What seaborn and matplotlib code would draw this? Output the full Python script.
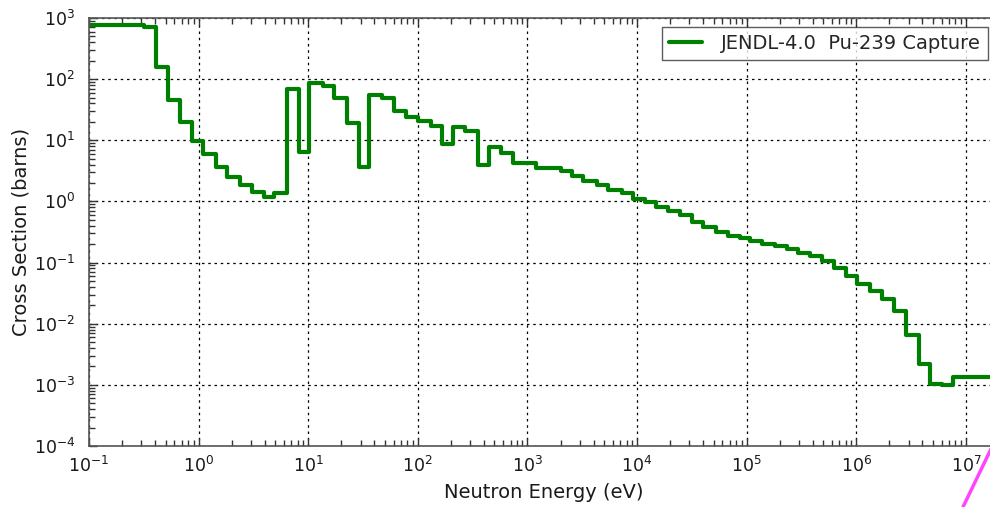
import matplotlib
matplotlib.use("Agg")
import matplotlib.pyplot as plt
from matplotlib.lines import Line2D
from matplotlib.ticker import LogLocator, NullFormatter
import numpy as np
import pandas as pd
import seaborn as sns

# Group boundaries (eV) and group-averaged capture cross sections (barns)
energy_edges = [
    0.1, 0.32, 0.41, 0.53, 0.68, 0.865, 1.10, 1.43, 1.83, 2.37, 3.05, 3.95,
    4.91, 6.37, 8.3, 10.2, 13.6, 17.2, 22.4, 28.9, 36.1, 46.9, 61.0, 78.0,
    101.0, 131.0, 165.0, 211.0, 270.0, 352.0, 449.0, 570.0, 743.0, 1190.0,
    2030.0, 2540.0, 3240.0, 4290.0, 5470.0, 7240.0, 9250.0, 1.18e4, 1.49e4,
    1.91e4, 2.47e4, 3.16e4, 4.03e4, 5.26e4, 6.71e4, 8.6e4, 1.07e5, 1.37e5,
    1.82e5, 2.32e5, 2.96e5, 3.78e5, 4.84e5, 6.27e5, 8.07e5, 1.023e6,
    1.336e6, 1.73e6, 2.213e6, 2.851e6, 3.69e6, 4.72e6, 6.03e6, 7.69e6, 2.0e7,
]
capture_xs = [
    768, 705, 156, 45.5, 19.6, 9.8, 5.9, 3.64, 2.53, 1.85, 1.44, 1.19,
    1.35, 68, 6.4, 85, 78, 48.5, 18.9, 3.69, 55, 48.5, 30.4, 24.3,
    20.9, 17.1, 8.7, 16.3, 14.3, 3.93, 7.8, 6.1, 4.2, 3.47,
    3.17, 2.6, 2.17, 1.85, 1.53, 1.35, 1.08, 0.975, 0.817,
    0.694, 0.597, 0.464, 0.376, 0.316, 0.272, 0.248, 0.226, 0.205,
    0.185, 0.164, 0.146, 0.127, 0.107, 0.082, 0.060, 0.0443,
    0.0344, 0.0252, 0.0162, 0.0065, 0.00223, 0.00105, 0.00099, 0.00135,
]
series_label = "JENDL-4.0  Pu-239 Capture"

# Histogram drawn as a post-step line: repeat the last value at the upper edge
df = pd.DataFrame({
    "energy": energy_edges,
    "xs": capture_xs + [capture_xs[-1]],
})

sns.set_style("ticks", {"xtick.direction": "in", "ytick.direction": "in"})
plt.rcParams.update({
    "font.family": ["DejaVu Sans"],
    "xtick.major.pad": 7, "ytick.major.pad": 10,
})

fig = plt.figure(figsize=(9.9, 5.07), dpi=100)
ax = fig.add_axes([89 / 990, 61 / 507, 910 / 990, 428 / 507])

sns.lineplot(data=df, x="energy", y="xs", ax=ax, estimator=None, sort=False,
             drawstyle="steps-post", color="green", linewidth=3.0,
             label=series_label)

# Frame, axis titles and legend
for side in ax.spines.values():
    side.set_color("#555555")
    side.set_linewidth(1.2)

ax.set_xlabel("Neutron Energy (eV)", fontsize=14, color="#1a1a1a", labelpad=5)
ax.set_ylabel("Cross Section (barns)", fontsize=14, color="#1a1a1a", labelpad=2)

leg = ax.legend(loc="upper right", bbox_to_anchor=(988 / 990, (507 - 27) / 507),
                bbox_transform=fig.transFigure, borderaxespad=0,
                fancybox=False, frameon=True, fontsize=14, handlelength=1.7,
                handletextpad=1.0, borderpad=0.35)
leg.get_frame().set_edgecolor("#333333")
leg.get_frame().set_linewidth(1.0)

# Log scales, decade ticks with 2..9 minor ticks, dotted major grid
ax.set_xscale("log")
ax.set_yscale("log")
ax.set_xlim(1e-1, 2e7)
ax.set_ylim(1e-4, 1e3)

ax.xaxis.set_major_locator(LogLocator(base=10, numticks=20))
ax.yaxis.set_major_locator(LogLocator(base=10, numticks=20))
ax.xaxis.set_minor_locator(LogLocator(base=10, subs=np.arange(2, 10), numticks=20))
ax.yaxis.set_minor_locator(LogLocator(base=10, subs=np.arange(2, 10), numticks=20))
ax.xaxis.set_minor_formatter(NullFormatter())
ax.yaxis.set_minor_formatter(NullFormatter())

ax.grid(True, which="major", color="black", linestyle=(0, (2, 3)), linewidth=0.9)
ax.tick_params(which="both", direction="in", bottom=True, left=True,
               top=True, right=True, color="#333333", labelcolor="#1a1a1a",
               labelsize=12.5)
ax.tick_params(which="major", length=6, width=1.0)
ax.tick_params(which="minor", length=4, width=1.0)

# Magenta stroke in the lower-right corner
fig.add_artist(Line2D([963 / 990, 991 / 990], [0 / 507, 58 / 507],
                      transform=fig.transFigure, color="#ff44ff", linewidth=2.5))

fig.savefig("out.png", dpi=100)
